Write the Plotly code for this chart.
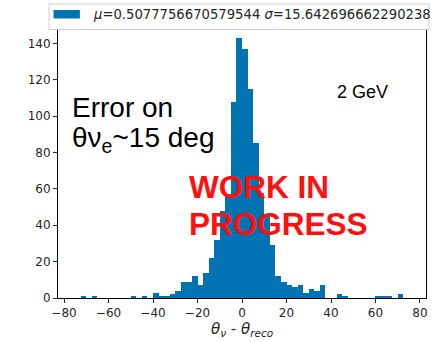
import numpy as np
import plotly.graph_objects as go

# ---- data ----
bin_start = -75.0
bin_width = 2.5
counts = [0, 1, 0, 1, 0, 0, 0, 0, 0, 0,
          1, 0, 1, 0, 3, 1, 1, 2, 4, 9,
          9, 12, 7, 14, 22, 32, 48, 57, 108, 143,
          137, 115, 85, 58, 45, 29, 12, 9, 7, 6,
          7, 3, 5, 4, 7, 0, 0, 2, 1, 0,
          0, 0, 0, 0, 1, 1, 1, 0, 2, 0]
x_ticks = [-80, -60, -40, -20, 0, 20, 40, 60, 80]
y_ticks = [0, 20, 40, 60, 80, 100, 120, 140]
legend_text = "<i>μ</i>=0.5077756670579544 <i>σ</i>=15.642696662290238"

edges = bin_start + bin_width * np.arange(len(counts) + 1)
centers = (edges[:-1] + edges[1:]) / 2

W, H = 437, 342
L, R, T, B = 58, 9, 25, 44
pw, ph = W - L - R, H - T - B


def px(xp):
    return (xp - L) / pw


def py(yp):
    return (H - B - yp) / ph


blue = "#0173b2"
fig = go.Figure()
fig.add_trace(go.Bar(x=centers, y=counts, width=bin_width,
                     marker=dict(color=blue, line=dict(width=0)),
                     showlegend=False))

tickfont = dict(family="DejaVu Sans", size=12, color="#262626")
fig.update_layout(
    width=W, height=H,
    margin=dict(l=L, r=R, t=T, b=B),
    paper_bgcolor="white", plot_bgcolor="white",
    bargap=0,
    xaxis=dict(range=[-82.7, 82.7], tickvals=x_ticks, ticks="outside", ticklen=4,
               tickcolor="#262626", showline=True, linecolor="black", linewidth=1,
               showgrid=False, zeroline=False, tickfont=tickfont, mirror=False),
    yaxis=dict(range=[0, 150.15], tickvals=y_ticks, ticks="outside", ticklen=4,
               tickcolor="#262626", showline=True, linecolor="black", linewidth=1,
               showgrid=False, zeroline=False, tickfont=tickfont, mirror=True),
)

# legend frame (matplotlib-like)
fig.add_shape(type="rect", xref="paper", yref="paper",
              x0=px(49), x1=px(431), y0=py(29.5), y1=py(4),
              line=dict(color="#cfcfcf", width=1), fillcolor="white", layer="above")
fig.add_shape(type="rect", xref="paper", yref="paper",
              x0=px(53.5), x1=px(80), y0=py(18.5), y1=py(10),
              line=dict(width=0), fillcolor=blue, layer="above")

annots = [
    dict(text=legend_text, x=px(91), y=py(15), xanchor="left", yanchor="middle",
         font=dict(family="DejaVu Sans", size=13.2, color="#262626")),
    dict(text="Error on", x=px(70.5), y=py(107), xanchor="left", yanchor="middle",
         font=dict(family="Liberation Sans", size=28, color="black")),
    dict(text="θν<sub>e</sub>~15 deg", x=px(70.5), y=py(140.5), xanchor="left", yanchor="top",
         yshift=21, font=dict(family="Liberation Sans", size=28, color="black")),
    dict(text="2 GeV", x=px(337), y=py(92), xanchor="left", yanchor="middle",
         font=dict(family="Liberation Sans", size=18, color="black")),
    dict(text="<b>WORK IN</b>", x=px(187.5), y=py(187), xanchor="left", yanchor="middle",
         font=dict(family="Liberation Sans", size=31.5, color="#ff1010")),
    dict(text="<b>PROGRESS</b>", x=px(187.5), y=py(224), xanchor="left", yanchor="middle",
         font=dict(family="Liberation Sans", size=31.5, color="#ff1010")),
    dict(text="<i>θ</i><sub><i>ν</i></sub> - <i>θ</i><sub><i>reco</i></sub>",
         x=px(242.7), y=py(329), xanchor="center", yanchor="middle",
         font=dict(family="DejaVu Sans", size=15, color="#262626")),
]
for a in annots:
    a.setdefault("xref", "paper")
    a.setdefault("yref", "paper")
    a["showarrow"] = False
    fig.add_annotation(**a)

fig.write_html("out.html")
